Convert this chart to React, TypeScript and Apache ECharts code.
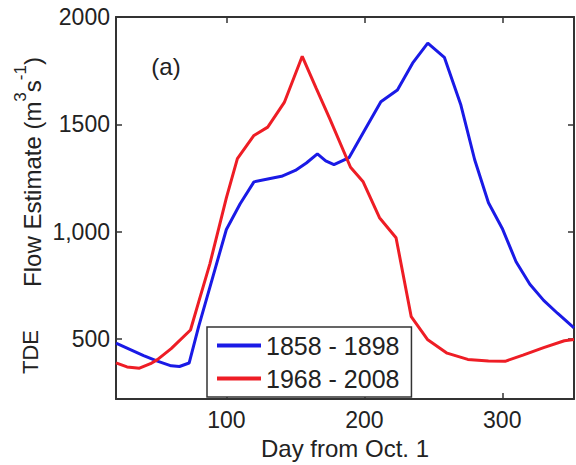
import React, { useEffect, useRef } from 'react';
import * as echarts from 'echarts';

const blueDays = [20, 30, 40, 50, 60, 66, 73, 80, 90, 100, 110, 120, 130, 140, 150, 158, 166, 172, 178, 189, 200, 212, 224, 235, 246, 258, 270, 280, 290, 300, 310, 320, 330, 340, 352];
const blueFlow = [481, 452, 423, 397, 375, 372, 388, 560, 785, 1010, 1130, 1232, 1245, 1258, 1285, 1320, 1362, 1330, 1312, 1345, 1470, 1605, 1660, 1785, 1878, 1812, 1590, 1335, 1135, 1015, 860, 755, 680, 620, 552];
const redDays = [20, 28, 37, 45, 50, 60, 74, 80, 88, 100, 108, 120, 130, 142, 155, 165, 175, 190, 199, 211, 223, 234, 246, 260, 275, 290, 302, 315, 330, 345, 352];
const redFlow = [389, 370, 364, 385, 404, 455, 542, 674, 849, 1157, 1340, 1448, 1487, 1602, 1817, 1670, 1525, 1300, 1234, 1065, 972, 604, 496, 434, 405, 398, 396, 425, 460, 492, 498];
const xTicks = [100, 200, 300];
const yTicks = [500, 1000, 1500, 2000];
const yTickLabels = ['500', '1,000', '1500', '2000'];
const seriesNames = ['1858 - 1898', '1968 - 2008'];

const FONT = '"Liberation Sans", Arial, sans-serif';
const TXT = '#222222';
const AX = '#333333';

export default function App() {
  const ref = useRef<HTMLDivElement>(null);
  useEffect(() => {
    const chart = echarts.init(ref.current!, null, { renderer: 'svg' });
    const xMin = 20, xMax = 352, yMin = 220, yMax = 2000;
    const axLine = { show: true, lineStyle: { color: AX, width: 2 } };
    const tick = (vals: number[]) => ({ show: true, inside: true, length: 6, customValues: vals, lineStyle: { color: AX, width: 1.5 } });
    chart.setOption({
      animation: false,
      textStyle: { fontFamily: FONT },
      grid: { left: 116, top: 17, right: 2, bottom: 62 },
      xAxis: [
        {
          type: 'value', min: xMin, max: xMax, position: 'bottom',
          axisLine: axLine, axisTick: tick(xTicks), splitLine: { show: false },
          axisLabel: { customValues: xTicks, fontSize: 23, color: TXT, margin: 9, fontFamily: FONT },
          name: 'Day from Oct. 1', nameLocation: 'middle', nameGap: 36,
          nameTextStyle: { fontSize: 24, color: TXT, fontFamily: FONT },
        },
        {
          type: 'value', min: xMin, max: xMax, position: 'top',
          axisLine: axLine, axisTick: tick(xTicks), splitLine: { show: false },
          axisLabel: { show: false },
        },
      ],
      yAxis: [
        {
          type: 'value', min: yMin, max: yMax, position: 'left',
          axisLine: axLine, axisTick: tick(yTicks), splitLine: { show: false },
          axisLabel: {
            customValues: yTicks, fontSize: 23, color: TXT, margin: 6, fontFamily: FONT,
            formatter: (v: number) => yTickLabels[yTicks.indexOf(v)] ?? '',
          },
        },
        {
          type: 'value', min: yMin, max: yMax, position: 'right',
          axisLine: axLine, axisTick: tick(yTicks), splitLine: { show: false },
          axisLabel: { show: false },
        },
      ],
      legend: {
        data: seriesNames,
        left: 207, top: 327, orient: 'vertical',
        backgroundColor: '#fff', borderColor: AX, borderWidth: 1.5, borderRadius: 0,
        padding: [6, 12, 6, 10], itemGap: 8, itemWidth: 44, itemHeight: 4, icon: 'rect',
        textStyle: { fontSize: 25, color: TXT, fontFamily: FONT },
      },
      series: [
        {
          name: seriesNames[0], type: 'line', showSymbol: false, symbol: 'none',
          data: blueDays.map((d, i) => [d, blueFlow[i]]),
          lineStyle: { color: '#1a1ae6', width: 3 }, itemStyle: { color: '#1a1ae6' },
        },
        {
          name: seriesNames[1], type: 'line', showSymbol: false, symbol: 'none',
          data: redDays.map((d, i) => [d, redFlow[i]]),
          lineStyle: { color: '#ee1d25', width: 3 }, itemStyle: { color: '#ee1d25' },
        },
      ],
      graphic: [
        {
          type: 'text', x: 30, y: 352, rotation: Math.PI / 2,
          style: { text: 'TDE', fontSize: 22, fill: TXT, align: 'center', verticalAlign: 'middle', fontFamily: FONT },
        },
        {
          type: 'text', x: 28, y: 172, rotation: Math.PI / 2,
          style: {
            text: '{m|Flow Estimate (m}{s|3}{m|s}{s|-1}{m|)}',
            align: 'center', verticalAlign: 'middle',
            rich: {
              m: { fontSize: 24, fill: TXT, fontFamily: FONT, lineHeight: 32, verticalAlign: 'bottom' },
              s: { fontSize: 17, fill: TXT, fontFamily: FONT, lineHeight: 17, verticalAlign: 'top' },
            },
          },
        },
        {
          type: 'text', x: 166, y: 66,
          style: { text: '(a)', fontSize: 24, fill: TXT, align: 'center', verticalAlign: 'middle', fontFamily: FONT },
        },
      ],
    });
    return () => chart.dispose();
  }, []);
  return <div ref={ref} style={{ position: 'absolute', left: 0, top: 0, width: 576, height: 465 }} />;
}
